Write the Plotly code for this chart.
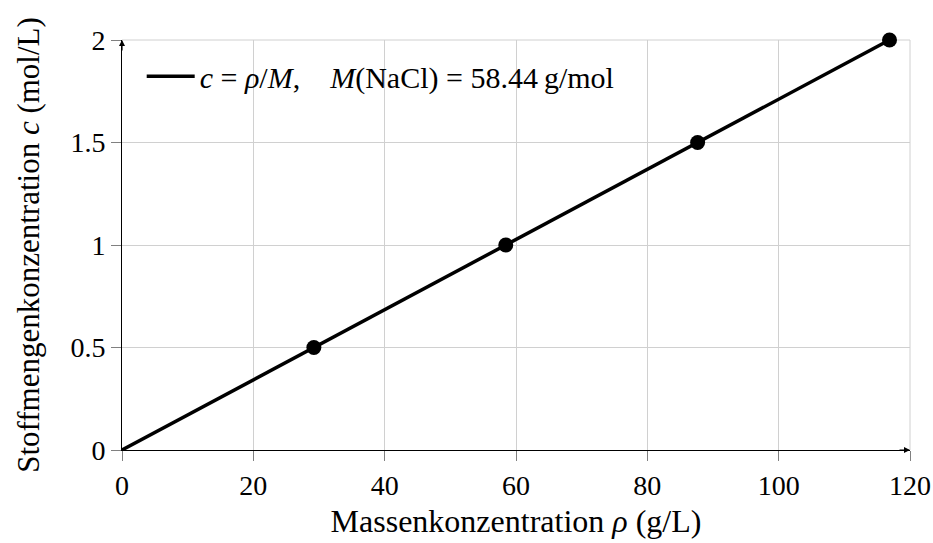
import plotly.graph_objects as go

rho = [0, 29.22, 58.44, 87.66, 116.88]
conc = [0, 0.5, 1, 1.5, 2]
marker_rho = rho[1:]
marker_conc = conc[1:]
x_ticks = [0, 20, 40, 60, 80, 100, 120]
y_ticks = [0, 0.5, 1, 1.5, 2]
y_tick_text = ["0", "0.5", "1", "1.5", "2"]

FONT = "Liberation Serif, serif"
TICKFONT = dict(family=FONT, size=28, color="black")

fig = go.Figure()
fig.add_trace(go.Scatter(
    x=rho, y=conc, mode="lines",
    line=dict(color="black", width=3.5),
    name="<i>c</i> = <i>ρ</i>/<i>M</i>,&nbsp;&nbsp;&nbsp;&nbsp;<i>M</i>(NaCl) = 58.44&#8201;g/mol",
    showlegend=True,
))
fig.add_trace(go.Scatter(
    x=marker_rho, y=marker_conc, mode="markers",
    marker=dict(color="black", size=15),
    cliponaxis=False,
    showlegend=False,
))

fig.update_layout(
    width=933, height=543,
    margin=dict(l=122, r=23, t=40, b=93),
    plot_bgcolor="white", paper_bgcolor="white",
    font=dict(family=FONT, size=28, color="black"),
    legend=dict(x=0.025, y=0.975, xanchor="left", yanchor="top",
                itemwidth=48,
                bgcolor="rgba(255,255,255,0)",
                font=dict(family=FONT, size=30, color="black")),
    xaxis=dict(
        range=[0, 120], tickvals=x_ticks,
        tickfont=TICKFONT, automargin=False,
        showgrid=True, gridcolor="#d0d0d0", gridwidth=1,
        showline=True, linecolor="black", linewidth=1,
        ticks="outside", ticklen=10, tickcolor="#808080",
        zeroline=False,
        title=dict(text="Massenkonzentration <i>ρ</i> (g/L)", standoff=10,
                   font=dict(family=FONT, size=32, color="black")),
    ),
    yaxis=dict(
        range=[0, 2], tickvals=y_ticks, ticktext=y_tick_text,
        tickfont=TICKFONT, automargin=False,
        showgrid=True, gridcolor="#d0d0d0", gridwidth=1,
        showline=True, linecolor="black", linewidth=1,
        ticks="outside", ticklen=10, tickcolor="#808080",
        zeroline=False,
        title=dict(text="Stoffmengenkonzentration <i>c</i> (mol/L)", standoff=21,
                   font=dict(family=FONT, size=31, color="black")),
    ),
)

# gray frame on top/right
fig.add_shape(type="line", xref="x domain", yref="y domain", x0=0, x1=1, y0=1, y1=1,
              line=dict(color="#d0d0d0", width=1), layer="below")
fig.add_shape(type="line", xref="x domain", yref="y domain", x0=1, x1=1, y0=0, y1=1,
              line=dict(color="#d0d0d0", width=1), layer="below")

# axis arrow heads
fig.add_annotation(x=1, y=0, xref="x domain", yref="y domain", ax=-12, ay=0,
                   text="", showarrow=True, arrowhead=2, arrowsize=1,
                   arrowwidth=1.2, arrowcolor="black")
fig.add_annotation(x=0, y=1, xref="x domain", yref="y domain", ax=0, ay=12,
                   text="", showarrow=True, arrowhead=2, arrowsize=1,
                   arrowwidth=1.2, arrowcolor="black")

fig.write_html(
    "out.html",
    config={"displayModeBar": False},
    post_script="document.body.style.margin='0px';document.body.style.overflow='hidden';",
)
